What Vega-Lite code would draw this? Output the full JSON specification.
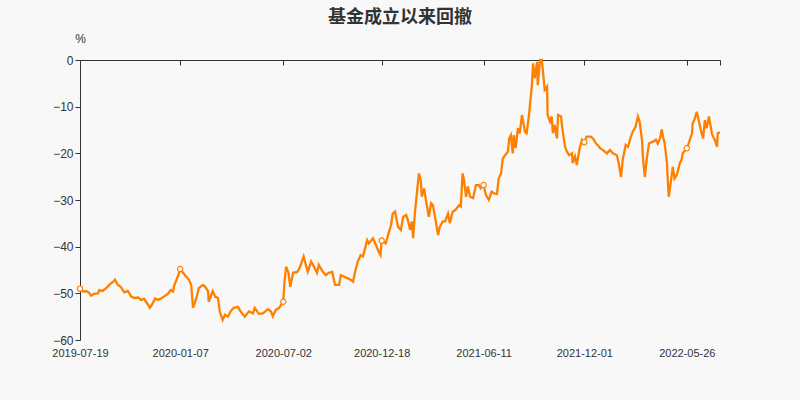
{
  "$schema": "https://vega.github.io/schema/vega-lite/v6.json",
  "autosize": {"type": "none"},
  "padding": {"left": 80, "top": 60, "right": 80, "bottom": 60},
  "width": 640,
  "height": 280,
  "background": "#f8f8f8",
  "title": {"text": "基金成立以来回撤", "anchor": "middle", "font": "Noto Sans CJK SC", "fontSize": 18, "fontWeight": "bold", "color": "#333333", "offset": 5},
  "config": {"view": {"stroke": null}, "axis": {"labelFont": "Liberation Sans", "titleFont": "Liberation Sans"}},
  "data": {"values": [
    {"date":"2019-07-19","v":-49.0},{"date":"2019-07-24","v":-49.6},{"date":"2019-07-29","v":-49.5},{"date":"2019-08-03","v":-49.8},{"date":"2019-08-07","v":-50.5},{"date":"2019-08-12","v":-50.1},{"date":"2019-08-19","v":-50.0},{"date":"2019-08-21","v":-49.3},{"date":"2019-08-27","v":-49.5},{"date":"2019-09-02","v":-48.9},{"date":"2019-09-07","v":-48.2},{"date":"2019-09-14","v":-47.5},{"date":"2019-09-17","v":-47.1},{"date":"2019-09-22","v":-48.2},{"date":"2019-09-27","v":-48.6},{"date":"2019-10-03","v":-49.8},{"date":"2019-10-09","v":-49.5},{"date":"2019-10-15","v":-50.7},{"date":"2019-10-20","v":-51.0},{"date":"2019-10-27","v":-50.9},{"date":"2019-11-01","v":-51.4},{"date":"2019-11-06","v":-51.2},{"date":"2019-11-13","v":-52.5},{"date":"2019-11-16","v":-53.1},{"date":"2019-11-21","v":-52.1},{"date":"2019-11-25","v":-51.1},{"date":"2019-11-30","v":-51.4},{"date":"2019-12-05","v":-51.1},{"date":"2019-12-10","v":-50.7},{"date":"2019-12-17","v":-50.1},{"date":"2019-12-22","v":-49.3},{"date":"2019-12-26","v":-49.6},{"date":"2019-12-27","v":-48.6},
    {"date":"2020-01-03","v":-46.4},{"date":"2020-01-07","v":-44.8},{"date":"2020-01-12","v":-45.6},{"date":"2020-01-17","v":-46.4},{"date":"2020-01-22","v":-47.1},{"date":"2020-01-26","v":-48.2},{"date":"2020-01-29","v":-53.1},{"date":"2020-02-01","v":-52.1},{"date":"2020-02-05","v":-50.5},{"date":"2020-02-08","v":-48.9},{"date":"2020-02-15","v":-48.2},{"date":"2020-02-19","v":-48.6},{"date":"2020-02-24","v":-49.6},{"date":"2020-02-25","v":-51.8},{"date":"2020-03-03","v":-49.5},{"date":"2020-03-07","v":-50.7},{"date":"2020-03-12","v":-51.0},{"date":"2020-03-15","v":-53.9},{"date":"2020-03-20","v":-55.7},{"date":"2020-03-24","v":-54.6},{"date":"2020-03-29","v":-55.0},{"date":"2020-04-03","v":-53.8},{"date":"2020-04-08","v":-53.1},{"date":"2020-04-15","v":-52.9},{"date":"2020-04-20","v":-53.9},{"date":"2020-04-27","v":-55.0},{"date":"2020-05-04","v":-53.9},{"date":"2020-05-11","v":-54.3},{"date":"2020-05-14","v":-53.1},{"date":"2020-05-21","v":-54.4},{"date":"2020-05-28","v":-54.3},{"date":"2020-06-06","v":-53.4},{"date":"2020-06-11","v":-53.9},{"date":"2020-06-14","v":-54.9},{"date":"2020-06-19","v":-53.6},{"date":"2020-06-25","v":-53.1},{"date":"2020-07-02","v":-51.8},{"date":"2020-07-04","v":-47.8},{"date":"2020-07-07","v":-44.3},{"date":"2020-07-11","v":-45.6},{"date":"2020-07-14","v":-48.6},{"date":"2020-07-19","v":-45.6},{"date":"2020-07-26","v":-45.4},{"date":"2020-07-30","v":-44.6},{"date":"2020-08-06","v":-42.1},{"date":"2020-08-13","v":-45.4},{"date":"2020-08-19","v":-43.2},{"date":"2020-08-24","v":-44.3},{"date":"2020-08-29","v":-45.6},{"date":"2020-09-01","v":-43.9},{"date":"2020-09-08","v":-45.4},{"date":"2020-09-13","v":-46.1},{"date":"2020-09-18","v":-45.6},{"date":"2020-09-24","v":-45.4},{"date":"2020-09-29","v":-48.2},{"date":"2020-10-06","v":-48.2},{"date":"2020-10-09","v":-46.1},{"date":"2020-10-14","v":-46.4},{"date":"2020-10-21","v":-46.8},{"date":"2020-10-26","v":-47.1},{"date":"2020-10-30","v":-47.5},{"date":"2020-11-02","v":-45.6},{"date":"2020-11-07","v":-43.2},{"date":"2020-11-12","v":-41.8},{"date":"2020-11-16","v":-42.1},{"date":"2020-11-23","v":-38.6},{"date":"2020-11-26","v":-39.3},{"date":"2020-12-03","v":-38.2},{"date":"2020-12-08","v":-39.6},{"date":"2020-12-13","v":-41.1},{"date":"2020-12-16","v":-41.8},{"date":"2020-12-18","v":-38.7},{"date":"2020-12-25","v":-39.3},{"date":"2020-12-30","v":-37.1},
    {"date":"2021-01-03","v":-35.4},{"date":"2021-01-06","v":-32.9},{"date":"2021-01-10","v":-32.5},{"date":"2021-01-15","v":-35.7},{"date":"2021-01-20","v":-36.4},{"date":"2021-01-24","v":-33.6},{"date":"2021-01-29","v":-33.2},{"date":"2021-02-01","v":-34.3},{"date":"2021-02-05","v":-36.4},{"date":"2021-02-08","v":-34.6},{"date":"2021-02-10","v":-38.2},{"date":"2021-02-13","v":-32.9},{"date":"2021-02-17","v":-27.9},{"date":"2021-02-20","v":-24.3},{"date":"2021-02-23","v":-25.7},{"date":"2021-02-25","v":-29.3},{"date":"2021-03-01","v":-27.5},{"date":"2021-03-04","v":-30.0},{"date":"2021-03-09","v":-33.6},{"date":"2021-03-13","v":-30.7},{"date":"2021-03-16","v":-31.1},{"date":"2021-03-19","v":-33.2},{"date":"2021-03-25","v":-37.5},{"date":"2021-03-28","v":-35.7},{"date":"2021-04-02","v":-34.6},{"date":"2021-04-06","v":-34.6},{"date":"2021-04-11","v":-32.9},{"date":"2021-04-14","v":-35.0},{"date":"2021-04-19","v":-32.5},{"date":"2021-04-24","v":-32.1},{"date":"2021-04-30","v":-31.1},{"date":"2021-05-03","v":-31.4},{"date":"2021-05-06","v":-24.3},{"date":"2021-05-08","v":-25.4},{"date":"2021-05-12","v":-29.3},{"date":"2021-05-15","v":-27.1},{"date":"2021-05-19","v":-29.3},{"date":"2021-05-24","v":-29.6},{"date":"2021-05-29","v":-26.8},{"date":"2021-06-03","v":-26.8},{"date":"2021-06-06","v":-27.5},{"date":"2021-06-11","v":-26.8},{"date":"2021-06-15","v":-28.9},{"date":"2021-06-20","v":-30.0},{"date":"2021-06-25","v":-28.2},{"date":"2021-06-29","v":-28.6},{"date":"2021-07-04","v":-28.7},{"date":"2021-07-07","v":-25.4},{"date":"2021-07-11","v":-24.3},{"date":"2021-07-14","v":-21.1},{"date":"2021-07-18","v":-20.4},{"date":"2021-07-23","v":-19.6},{"date":"2021-07-25","v":-16.8},{"date":"2021-07-28","v":-16.1},{"date":"2021-07-31","v":-20.0},{"date":"2021-08-02","v":-16.1},{"date":"2021-08-05","v":-18.9},{"date":"2021-08-09","v":-14.6},{"date":"2021-08-12","v":-15.7},{"date":"2021-08-16","v":-11.8},{"date":"2021-08-21","v":-15.4},{"date":"2021-08-24","v":-15.7},{"date":"2021-08-28","v":-11.8},{"date":"2021-09-02","v":-5.4},{"date":"2021-09-04","v":-0.7},{"date":"2021-09-07","v":-3.9},{"date":"2021-09-11","v":-0.4},{"date":"2021-09-12","v":-5.4},{"date":"2021-09-16","v":0},{"date":"2021-09-19","v":0},{"date":"2021-09-21","v":-2.5},{"date":"2021-09-24","v":-6.4},{"date":"2021-09-28","v":-5.7},{"date":"2021-09-29","v":-11.8},{"date":"2021-10-03","v":-13.2},{"date":"2021-10-06","v":-12.1},{"date":"2021-10-08","v":-15.7},{"date":"2021-10-11","v":-13.9},{"date":"2021-10-15","v":-16.8},{"date":"2021-10-17","v":-11.8},{"date":"2021-10-22","v":-12.1},{"date":"2021-10-25","v":-15.4},{"date":"2021-10-29","v":-18.6},{"date":"2021-11-01","v":-19.6},{"date":"2021-11-05","v":-20.4},{"date":"2021-11-10","v":-20.0},{"date":"2021-11-11","v":-22.1},{"date":"2021-11-15","v":-20.7},{"date":"2021-11-18","v":-22.5},{"date":"2021-11-23","v":-18.9},{"date":"2021-11-27","v":-17.1},{"date":"2021-12-01","v":-17.6},{"date":"2021-12-05","v":-16.4},{"date":"2021-12-12","v":-16.4},{"date":"2021-12-16","v":-16.8},{"date":"2021-12-21","v":-17.9},{"date":"2021-12-24","v":-18.2},{"date":"2021-12-28","v":-18.9},
    {"date":"2022-01-02","v":-19.3},{"date":"2022-01-09","v":-20.0},{"date":"2022-01-14","v":-19.3},{"date":"2022-01-19","v":-20.0},{"date":"2022-01-26","v":-20.4},{"date":"2022-01-29","v":-22.1},{"date":"2022-02-02","v":-25.1},{"date":"2022-02-05","v":-21.4},{"date":"2022-02-10","v":-18.2},{"date":"2022-02-14","v":-18.6},{"date":"2022-02-19","v":-16.4},{"date":"2022-02-22","v":-15.4},{"date":"2022-02-27","v":-14.3},{"date":"2022-03-03","v":-12.1},{"date":"2022-03-06","v":-13.2},{"date":"2022-03-10","v":-17.1},{"date":"2022-03-12","v":-21.4},{"date":"2022-03-15","v":-25.1},{"date":"2022-03-18","v":-21.4},{"date":"2022-03-22","v":-17.9},{"date":"2022-03-29","v":-17.5},{"date":"2022-04-03","v":-17.1},{"date":"2022-04-06","v":-17.9},{"date":"2022-04-10","v":-16.8},{"date":"2022-04-13","v":-14.9},{"date":"2022-04-15","v":-16.4},{"date":"2022-04-18","v":-17.9},{"date":"2022-04-22","v":-22.1},{"date":"2022-04-23","v":-25.0},{"date":"2022-04-25","v":-29.3},{"date":"2022-04-29","v":-25.7},{"date":"2022-05-02","v":-22.9},{"date":"2022-05-05","v":-25.4},{"date":"2022-05-09","v":-24.6},{"date":"2022-05-14","v":-22.1},{"date":"2022-05-17","v":-21.4},{"date":"2022-05-19","v":-20.0},{"date":"2022-05-26","v":-18.9},{"date":"2022-05-29","v":-17.9},{"date":"2022-06-04","v":-15.7},{"date":"2022-06-05","v":-13.6},{"date":"2022-06-09","v":-12.5},{"date":"2022-06-12","v":-11.1},{"date":"2022-06-16","v":-13.2},{"date":"2022-06-19","v":-15.0},{"date":"2022-06-23","v":-16.8},{"date":"2022-06-26","v":-12.9},{"date":"2022-06-29","v":-14.6},{"date":"2022-07-03","v":-12.1},{"date":"2022-07-08","v":-15.7},{"date":"2022-07-10","v":-16.4},{"date":"2022-07-13","v":-17.1},{"date":"2022-07-17","v":-18.6},{"date":"2022-07-18","v":-15.7},{"date":"2022-07-22","v":-15.5}
  ]},
  "encoding": {
    "y": {"field": "v", "type": "quantitative",
      "scale": {"domain": [-60, 0], "nice": false, "zero": false},
      "axis": {"values": [-60, -50, -40, -30, -20, -10, 0], "grid": false, "domain": true, "domainColor": "#333333", "ticks": true, "tickColor": "#333333", "tickSize": 5, "labelPadding": 2, "labelFontSize": 12, "labelColor": "#333333",
        "title": "%", "titleAngle": 0, "titleX": 0, "titleY": -22, "titleAlign": "center", "titleBaseline": "middle", "titleFontSize": 12, "titleFontWeight": "normal", "titleColor": "#333333"}}
  },
  "layer": [
    {
      "mark": {"type": "line", "color": "#ff8000", "strokeWidth": 2.3},
      "encoding": {
        "x": {"field": "date", "type": "temporal",
          "scale": {"type": "utc", "domain": [{"year": 2019, "month": 7, "date": 19, "utc": true}, {"year": 2022, "month": 7, "date": 22, "utc": true}]},
          "axis": {"orient": "bottom", "title": null, "format": "%Y-%m-%d", "grid": false, "domain": false, "ticks": false, "tickSize": 0, "labelPadding": 7, "labelFontSize": 11, "labelColor": "#333333", "labelFlush": false, "labelOverlap": false,
            "values": [{"year": 2019, "month": 7, "date": 19, "utc": true}, {"year": 2020, "month": 1, "date": 7, "utc": true}, {"year": 2020, "month": 7, "date": 2, "utc": true}, {"year": 2020, "month": 12, "date": 18, "utc": true}, {"year": 2021, "month": 6, "date": 11, "utc": true}, {"year": 2021, "month": 12, "date": 1, "utc": true}, {"year": 2022, "month": 5, "date": 26, "utc": true}]}}
      }
    },
    {
      "transform": [{"filter": {"field": "date", "timeUnit": "utcyearmonthdate", "oneOf": [{"year": 2019, "month": 7, "date": 19, "utc": true}, {"year": 2020, "month": 1, "date": 7, "utc": true}, {"year": 2020, "month": 7, "date": 2, "utc": true}, {"year": 2020, "month": 12, "date": 18, "utc": true}, {"year": 2021, "month": 6, "date": 11, "utc": true}, {"year": 2021, "month": 12, "date": 1, "utc": true}, {"year": 2022, "month": 5, "date": 26, "utc": true}]}}],
      "mark": {"type": "point", "shape": "circle", "filled": true, "fill": "#ffffff", "stroke": "#ff8000", "strokeWidth": 1.2, "size": 28, "opacity": 1},
      "encoding": {
        "x": {"field": "date", "type": "temporal",
          "scale": {"type": "utc", "domain": [{"year": 2019, "month": 7, "date": 19, "utc": true}, {"year": 2022, "month": 7, "date": 22, "utc": true}]},
          "axis": {"orient": "top", "title": null, "labels": false, "grid": false, "domain": true, "domainColor": "#333333", "ticks": true, "tickColor": "#333333", "tickSize": -5,
            "values": [{"year": 2019, "month": 7, "date": 19, "utc": true}, {"year": 2020, "month": 1, "date": 7, "utc": true}, {"year": 2020, "month": 7, "date": 2, "utc": true}, {"year": 2020, "month": 12, "date": 18, "utc": true}, {"year": 2021, "month": 6, "date": 11, "utc": true}, {"year": 2021, "month": 12, "date": 1, "utc": true}, {"year": 2022, "month": 5, "date": 26, "utc": true}, {"year": 2022, "month": 7, "date": 22, "utc": true}]}}
      }
    }
  ],
  "resolve": {"axis": {"x": "independent"}}
}
